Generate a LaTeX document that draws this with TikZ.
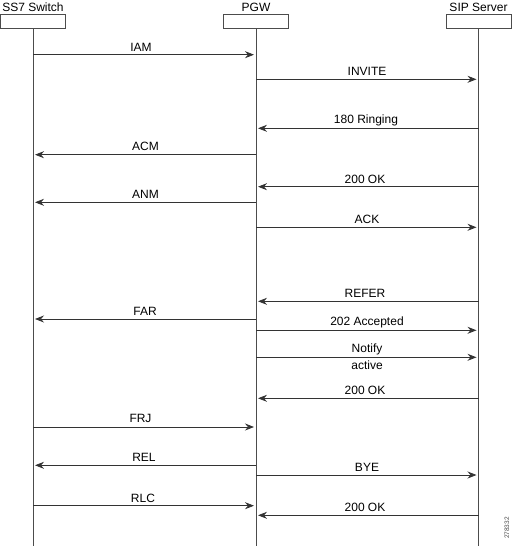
\documentclass[tikz,border=0pt]{standalone}
\usepackage{fontspec}
\setmainfont{Liberation Sans}
\usetikzlibrary{arrows.meta}
\begin{document}
\begin{tikzpicture}[x=1pt,y=-1pt,
  every node/.style={font=\fontsize{12}{14}\selectfont},
  hbox/.style={draw=black!70,line width=0.7pt,minimum width=65pt,minimum height=14pt,inner sep=0pt},
  hlabel/.style={inner sep=0pt},
  life/.style={draw=black!70,line width=0.8pt},
  msg/.style={draw=black!80,line width=0.8pt,-{Stealth[length=9pt,width=7pt,inset=3pt]},shorten >=2pt},
  mlabel/.style={inner sep=0pt}]
\useasboundingbox (0,0) rectangle (528,546);
% headers
\node[hbox] (ss7) at (33,21) {};
\node[hbox] (pgw) at (256,21) {};
\node[hbox] (sip) at (478.5,21) {};
\node[hlabel] (ss7t) at (33,7) {SS7 Switch};
\node[hlabel] (pgwt) at (256,7) {PGW};
\node[hlabel] (sipt) at (478.5,7) {SIP Server};
\coordinate (ss7e) at (33,546);
\coordinate (pgwe) at (256,546);
\coordinate (sipe) at (478.5,546);
\draw[life] (ss7.south) -- (ss7e);
\draw[life] (pgw.south) -- (pgwe);
\draw[life] (sip.south) -- (sipe);
% messages
\draw[msg] (ss7.south |- 0,54.7) -- (pgw.south |- 0,54.7);
\node[mlabel] (l1) at (141,47) {IAM};
\draw[msg] (pgw.south |- 0,79.3) -- (sip.south |- 0,79.3);
\node[mlabel] (l2) at (367,71) {INVITE};
\draw[msg] (sip.south |- 0,128.3) -- (pgw.south |- 0,128.3);
\node[mlabel] (l3) at (366,120.3) {180 Ringing};
\draw[msg] (pgw.south |- 0,154.7) -- (ss7.south |- 0,154.7);
\node[mlabel] (l4) at (145.5,146.3) {ACM};
\draw[msg] (sip.south |- 0,186.7) -- (pgw.south |- 0,186.7);
\node[mlabel] (l5) at (365,179) {200 OK};
\draw[msg] (pgw.south |- 0,202.3) -- (ss7.south |- 0,202.3);
\node[mlabel] (l6) at (145.5,194.3) {ANM};
\draw[msg] (pgw.south |- 0,227.3) -- (sip.south |- 0,227.3);
\node[mlabel] (l7) at (367,219) {ACK};
\draw[msg] (sip.south |- 0,301.3) -- (pgw.south |- 0,301.3);
\node[mlabel] (l8) at (365,293) {REFER};
\draw[msg] (pgw.south |- 0,319) -- (ss7.south |- 0,319);
\node[mlabel] (l9) at (145,311) {FAR};
\draw[msg] (pgw.south |- 0,330.3) -- (sip.south |- 0,330.3);
\node[mlabel] (l10) at (367,322) {202 Accepted};
\draw[msg] (pgw.south |- 0,357.3) -- (sip.south |- 0,357.3);
\node[mlabel] (l11) at (367,349.3) {Notify};
\node[mlabel] (l11b) at (367,365) {active};
\draw[msg] (sip.south |- 0,398.3) -- (pgw.south |- 0,398.3);
\node[mlabel] (l12) at (365,390.3) {200 OK};
\draw[msg] (ss7.south |- 0,427) -- (pgw.south |- 0,427);
\node[mlabel] (l13) at (140.5,418.6) {FRJ};
\draw[msg] (pgw.south |- 0,465.3) -- (ss7.south |- 0,465.3);
\node[mlabel] (l14) at (144,457) {REL};
\draw[msg] (pgw.south |- 0,475) -- (sip.south |- 0,475);
\node[mlabel] (l15) at (367,467) {BYE};
\draw[msg] (ss7.south |- 0,505.7) -- (pgw.south |- 0,505.7);
\node[mlabel] (l16) at (143,498) {RLC};
\draw[msg] (sip.south |- 0,515.3) -- (pgw.south |- 0,515.3);
\node[mlabel] (l17) at (365,507) {200 OK};
% figure number
\node[inner sep=0pt,rotate=90,font=\fontsize{6.5}{7}\selectfont,text=black!70] (fig) at (507,528) {278332};
\end{tikzpicture}
\end{document}
